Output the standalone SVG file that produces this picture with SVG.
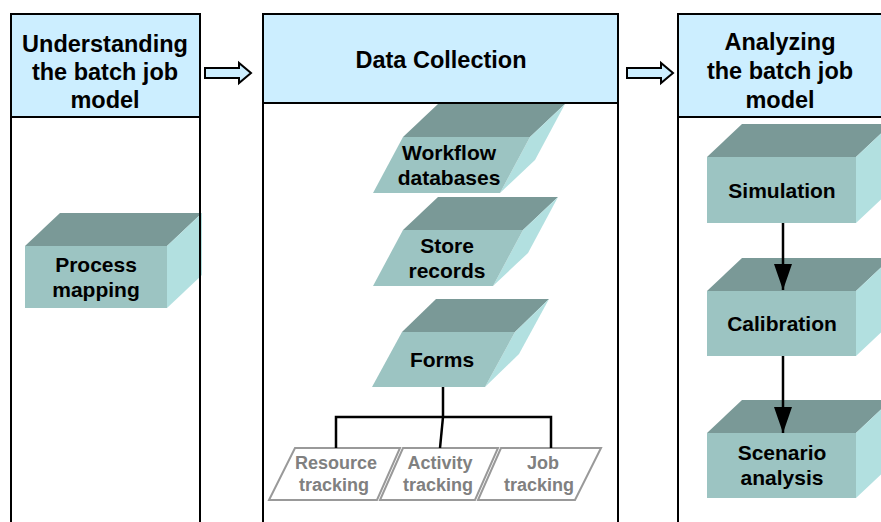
<svg xmlns="http://www.w3.org/2000/svg" width="881" height="522" viewBox="0 0 881 522">
  <style>
    .col { fill: #ffffff; stroke: none; }
    .frame { fill: none; stroke: #000000; stroke-width: 2; }
    .head { fill: #cceeff; stroke: #000000; stroke-width: 2; }
    .htext { font-family: "Liberation Sans", Arial, sans-serif; font-weight: bold; font-size: 23.5px; fill: #000000; text-anchor: middle; }
    .front { fill: #9cc4c2; }
    .top { fill: #7a9997; }
    .side { fill: #b2e0e0; }
    .btext { font-family: "Liberation Sans", Arial, sans-serif; font-weight: bold; font-size: 21px; fill: #000000; text-anchor: middle; }
    .track { fill: #ffffff; stroke: #999999; stroke-width: 2; }
    .ttext { font-family: "Liberation Sans", Arial, sans-serif; font-weight: bold; font-size: 18px; fill: #808080; text-anchor: middle; }
    .flow { fill: #cceeff; stroke: #000000; stroke-width: 2; }
    .link { fill: none; stroke: #000000; stroke-width: 2.5; }
  </style>
  <defs>
    <marker id="head" markerUnits="userSpaceOnUse" markerWidth="28" markerHeight="18" refX="26" refY="9" orient="auto">
      <path d="M0,0 L26,9 L0,18 Z" fill="#000000"/>
    </marker>
  </defs>

  <!-- column panels -->
  <g id="col-understanding">
    <rect class="col" x="11" y="14" width="189" height="520"/>
    <rect class="head" x="11" y="14" width="189" height="103"/>
    <text class="htext" x="105" y="52">Understanding</text>
    <text class="htext" x="105" y="80">the batch job</text>
    <text class="htext" x="105" y="108">model</text>
  </g>
  <g id="col-collection">
    <rect class="col" x="263" y="14" width="355" height="520"/>
    <rect class="head" x="263" y="14" width="355" height="89"/>
    <text class="htext" x="441" y="68">Data Collection</text>
  </g>
  <g id="col-analyzing">
    <rect class="col" x="678" y="14" width="220" height="520"/>
    <rect class="head" x="678" y="14" width="220" height="103"/>
    <text class="htext" x="780" y="50">Analyzing</text>
    <text class="htext" x="780" y="79">the batch job</text>
    <text class="htext" x="780" y="108">model</text>
  </g>

  <!-- block arrows between phases -->
  <g id="phase-arrows">
    <path class="flow" d="M205,68 H239 V63 L251,73 L239,83 V78 H205 Z"/>
    <path class="flow" d="M627,68 H661 V63 L673,73 L661,83 V78 H627 Z"/>
  </g>

  <!-- Process mapping -->
  <g id="process-mapping">
    <polygon class="top" points="25,246 60,213 202,213 167,246"/>
    <polygon class="side" points="167,246 202,213 202,275 167,308"/>
    <rect class="front" x="25" y="246" width="142" height="62"/>
    <text class="btext" x="96" y="272">Process</text>
    <text class="btext" x="96" y="297">mapping</text>
  </g>

  <!-- data sources -->
  <g id="workflow-databases">
    <polygon class="top" points="403,137 438,104 565,104 530,137"/>
    <polygon class="side" points="530,137 565,104 535,160 500,193"/>
    <polygon class="front" points="403,137 530,137 500,193 373,193"/>
    <text class="btext" x="449" y="160">Workflow</text>
    <text class="btext" x="449" y="185">databases</text>
  </g>
  <g id="store-records">
    <polygon class="top" points="403,230 438,197 558,197 523,230"/>
    <polygon class="side" points="523,230 558,197 528,253 493,286"/>
    <polygon class="front" points="403,230 523,230 493,286 373,286"/>
    <text class="btext" x="447" y="253">Store</text>
    <text class="btext" x="447" y="278">records</text>
  </g>
  <g id="forms">
    <polygon class="top" points="402,332 436,299 549,299 515,332"/>
    <polygon class="side" points="515,332 549,299 519,354 485,387"/>
    <polygon class="front" points="402,332 515,332 485,387 372,387"/>
    <text class="btext" x="442" y="367">Forms</text>
  </g>

  <!-- tracking items -->
  <g id="resource-tracking">
    <polygon class="track" points="295,448 400,448 377,500 269,500"/>
    <text class="ttext" x="336" y="469">Resource</text>
    <text class="ttext" x="334" y="491">tracking</text>
  </g>
  <g id="activity-tracking">
    <polygon class="track" points="403,448 498,448 475,500 380,500"/>
    <text class="ttext" x="440" y="469">Activity</text>
    <text class="ttext" x="438" y="491">tracking</text>
  </g>
  <g id="job-tracking">
    <polygon class="track" points="501,448 601,448 575,500 478,500"/>
    <text class="ttext" x="543" y="469">Job</text>
    <text class="ttext" x="539" y="491">tracking</text>
  </g>

  <!-- analysis steps -->
  <g id="simulation">
    <polygon class="top" points="707,157 742,124 891,124 856,157"/>
    <polygon class="side" points="856,157 891,124 891,190 856,223"/>
    <rect class="front" x="707" y="157" width="149" height="66"/>
    <text class="btext" x="782" y="198">Simulation</text>
  </g>
  <g id="calibration">
    <polygon class="top" points="707,291 742,258 891,258 856,291"/>
    <polygon class="side" points="856,291 891,258 891,323 856,356"/>
    <rect class="front" x="707" y="291" width="149" height="65"/>
    <text class="btext" x="782" y="331">Calibration</text>
  </g>
  <g id="scenario-analysis">
    <polygon class="top" points="707,433 742,400 891,400 856,433"/>
    <polygon class="side" points="856,433 891,400 891,465 856,498"/>
    <rect class="front" x="707" y="433" width="149" height="65"/>
    <text class="btext" x="782" y="460">Scenario</text>
    <text class="btext" x="782" y="485">analysis</text>
  </g>

  <!-- column outlines drawn over the boxes -->
  <g id="column-frames">
    <path class="frame" d="M11,530 V14 H200 V530"/>
    <path class="frame" d="M263,530 V14 H618 V530"/>
    <path class="frame" d="M678,530 V14 H890"/>
  </g>

  <!-- connectors -->
  <g id="connectors">
    <path class="link" d="M443,387 V417" stroke-width="3.5"/>
    <path class="link" d="M336,448 V417 H551 V448"/>
    <path class="link" d="M443,417 L440,448"/>
    <path class="link" d="M783,223 V290" marker-end="url(#head)"/>
    <path class="link" d="M783,356 V433" marker-end="url(#head)"/>
  </g>
</svg>
